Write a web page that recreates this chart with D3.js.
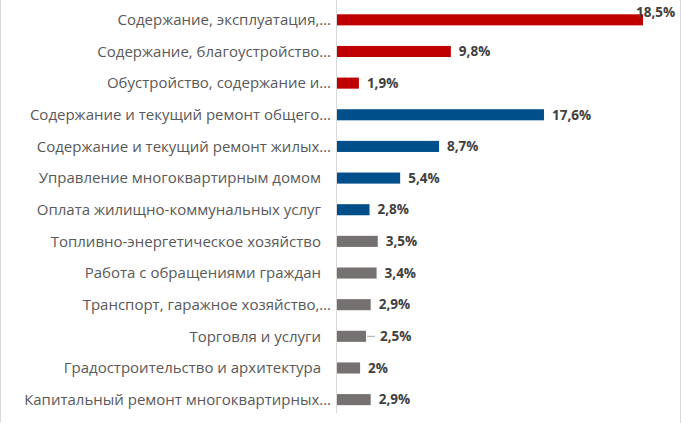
<!DOCTYPE html>
<html lang="ru">
  <head>
    <meta charset="UTF-8" />
    <title>Обращения по темам</title>
    <script src="https://d3js.org/d3.v7.min.js"></script>
    <style>
      body { margin: 0; background: #fff; }
    </style>
  </head>
  <body>
    <svg width="681" height="431"></svg>

    <script>
      // Данные графика
      const categories = [
        "Содержание, эксплуатация,…",
        "Содержание, благоустройство…",
        "Обустройство, содержание и…",
        "Содержание и текущий ремонт общего…",
        "Содержание и текущий ремонт жилых…",
        "Управление многоквартирным домом",
        "Оплата жилищно-коммунальных услуг",
        "Топливно-энергетическое хозяйство",
        "Работа с обращениями граждан",
        "Транспорт, гаражное хозяйство,…",
        "Торговля и услуги",
        "Градостроительство и архитектура",
        "Капитальный ремонт многоквартирных…",
      ];
      // длина столбцов (значения на оси)
      const values = [26.0, 9.7, 1.9, 17.6, 8.7, 5.4, 2.8, 3.5, 3.4, 2.9, 2.5, 2.0, 2.9];
      // подписи данных
      const valueLabels = [
        "18,5%", "9,8%", "1,9%", "17,6%", "8,7%", "5,4%", "2,8%",
        "3,5%", "3,4%", "2,9%", "2,5%", "2%", "2,9%",
      ];
      const groups = ["red", "red", "red", "blue", "blue", "blue", "blue",
        "gray", "gray", "gray", "gray", "gray", "gray"];

      const colors = { red: "#C00000", blue: "#004F8A", gray: "#767171" };

      const svg = d3.select("svg");
      const width = +svg.attr("width");
      const height = +svg.attr("height");

      const axisX = 336.5;

      const x = d3.scaleLinear().domain([0, 26]).range([axisX, 643]);
      const y = d3
        .scaleBand()
        .domain(categories)
        .range([4, 4 + 13 * 31.65])
        .paddingInner(0.65)
        .paddingOuter(0.325);

      // рамка области диаграммы (слева и справа)
      svg.append("line")
        .attr("x1", 0.5).attr("x2", 0.5).attr("y1", 0).attr("y2", 422)
        .style("stroke", "#d9d9d9");
      svg.append("line")
        .attr("x1", width - 0.5).attr("x2", width - 0.5).attr("y1", 0).attr("y2", 423)
        .style("stroke", "#d9d9d9");

      // столбцы
      svg.selectAll("rect.bar")
        .data(categories)
        .enter()
        .append("rect")
        .attr("class", "bar")
        .attr("x", axisX)
        .attr("y", (d) => y(d))
        .attr("width", (d, i) => x(values[i]) - axisX)
        .attr("height", y.bandwidth())
        .style("fill", (d, i) => colors[groups[i]]);

      // вертикальная ось
      svg.append("line")
        .attr("x1", axisX).attr("x2", axisX)
        .attr("y1", 0).attr("y2", 413)
        .style("stroke", "#d9d9d9")
        .style("stroke-width", 1);

      // подписи категорий
      svg.selectAll("text.cat")
        .data(categories)
        .enter()
        .append("text")
        .attr("class", "cat")
        .attr("x", (d) => (d.endsWith("…") ? 331 : 321))
        .attr("y", (d) => y(d) + y.bandwidth() / 2)
        .attr("dy", "0.35em")
        .style("font-family", "'Open Sans', sans-serif")
        .style("font-size", "15px")
        .style("fill", "#595959")
        .style("text-anchor", "end")
        .text((d) => d);

      // подписи значений
      svg.selectAll("text.val")
        .data(categories)
        .enter()
        .append("text")
        .attr("class", "val")
        .attr("x", (d, i) => {
          if (i === 0) return x(values[i]) - 7;
          if (i === 10) return x(values[i]) + 14;
          return x(values[i]) + 8;
        })
        .attr("y", (d, i) => y(d) + y.bandwidth() / 2 - (i === 0 ? 8 : 0))
        .attr("dy", "0.35em")
        .style("font-family", "'Open Sans', sans-serif")
        .style("font-size", "13.5px")
        .style("font-weight", "bold")
        .style("fill", "#404040")
        .text((d, i) => valueLabels[i]);

      // линия выноски для «Торговля и услуги»
      const t = categories[10];
      svg.append("line")
        .attr("x1", x(values[10]) + 1)
        .attr("x2", x(values[10]) + 9)
        .attr("y1", y(t) + y.bandwidth() / 2)
        .attr("y2", y(t) + y.bandwidth() / 2)
        .style("stroke", "#a6a6a6")
        .style("stroke-width", 1);
    </script>
  </body>
</html>
